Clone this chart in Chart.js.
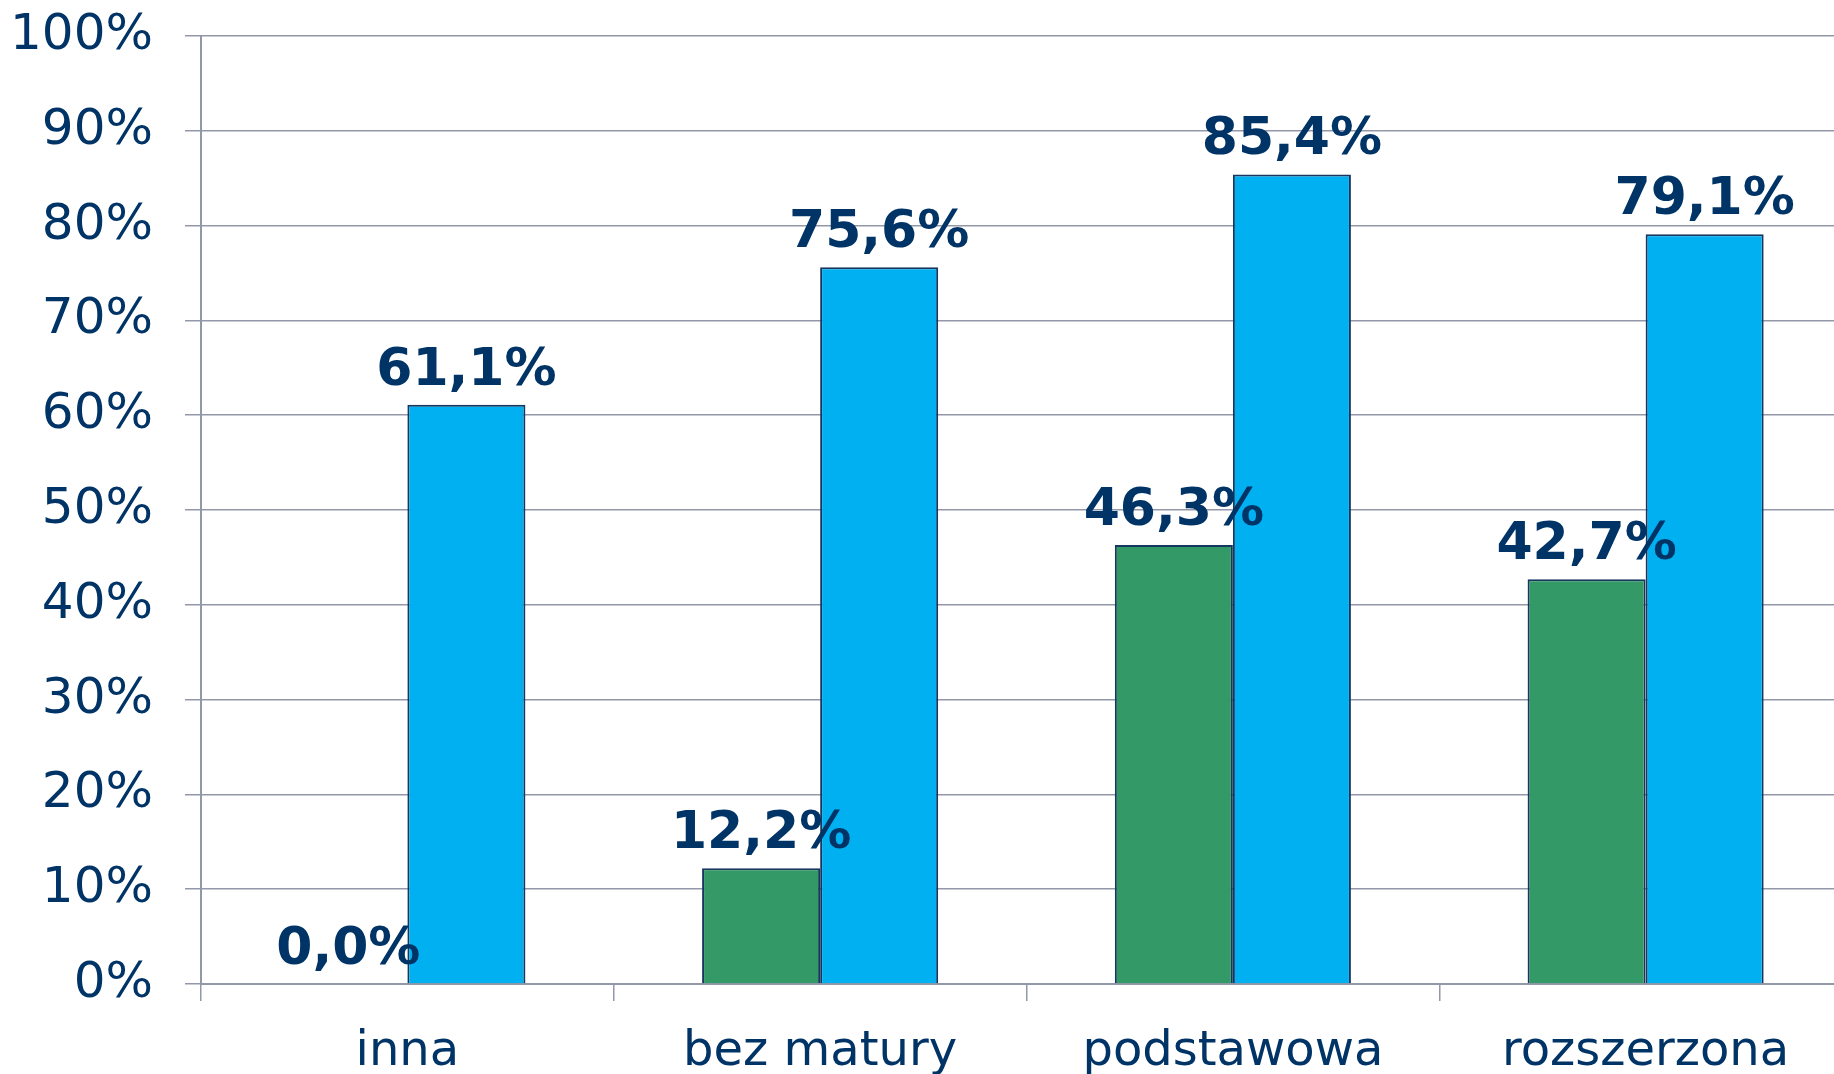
<!DOCTYPE html>
<html>
<head>
<meta charset="utf-8">
<script src="https://cdn.jsdelivr.net/npm/chart.js@4"></script>
<style>
  html, body { margin: 0; padding: 0; background: #fff; overflow: hidden; }
  #wrap { position: relative; width: 1852px; height: 1100px; margin-top: -26px; }
</style>
</head>
<body>
<div id="wrap"><canvas id="c"></canvas></div>
<script>
const categories = ["inna", "bez matury", "podstawowa", "rozszerzona"];
const seriesGreen = [0.0, 12.2, 46.3, 42.7];
const seriesBlue = [61.1, 75.6, 85.4, 79.1];
const yTicks = [0, 10, 20, 30, 40, 50, 60, 70, 80, 90, 100];

const textColor = "#003366";
const gridColor = "#9298A8";
const fontFamily = "'DejaVu Sans', Verdana, sans-serif";

const labelPlugin = {
  id: "valueLabels",
  afterDatasetsDraw(chart) {
    const ctx = chart.ctx;
    ctx.save();
    ctx.font = "bold 52px " + fontFamily;
    ctx.fillStyle = textColor;
    ctx.textAlign = "center";
    ctx.textBaseline = "alphabetic";
    chart.data.datasets.forEach((ds, di) => {
      const meta = chart.getDatasetMeta(di);
      meta.data.forEach((el, i) => {
        const v = ds.data[i];
        const txt = v.toFixed(1).replace(".", ",") + "%";
        ctx.fillText(txt, el.x, el.y - 20);
      });
    });
    ctx.restore();
  }
};

new Chart(document.getElementById("c"), {
  type: "bar",
  data: {
    labels: categories,
    datasets: [
      { data: seriesGreen, backgroundColor: "#339966", borderColor: "#17375E", borderWidth: 2,
        categoryPercentage: 0.572, barPercentage: 1 },
      { data: seriesBlue, backgroundColor: "#00B0F0", borderColor: "#17375E", borderWidth: 2,
        categoryPercentage: 0.572, barPercentage: 1 }
    ]
  },
  options: {
    responsive: true,
    maintainAspectRatio: false,
    animation: false,
    layout: { padding: { top: 12, right: 0, left: 0, bottom: 0 } },
    plugins: { legend: { display: false }, tooltip: { enabled: false } },
    scales: {
      x: {
        grid: { offset: true, drawOnChartArea: false, drawTicks: true, tickLength: 17, color: gridColor, lineWidth: 1.5 },
        border: { display: true, color: gridColor, width: 2 },
        ticks: { color: textColor, font: { family: fontFamily, size: 48 }, padding: 23, maxRotation: 0 },
        afterFit(scale) { scale.height = 90; }
      },
      y: {
        min: 0, max: 100,
        afterBuildTicks(scale) { scale.ticks = yTicks.map(v => ({ value: v })); },
        grid: { color: gridColor, lineWidth: 1.5, tickLength: 16, drawTicks: true },
        border: { display: true, color: gridColor, width: 2 },
        ticks: { color: textColor, font: { family: fontFamily, size: 50 }, padding: 32,
                 callback: v => v + "%" },
        afterFit(scale) { scale.width = 201; }
      }
    }
  },
  plugins: [labelPlugin]
});
</script>
</body>
</html>
